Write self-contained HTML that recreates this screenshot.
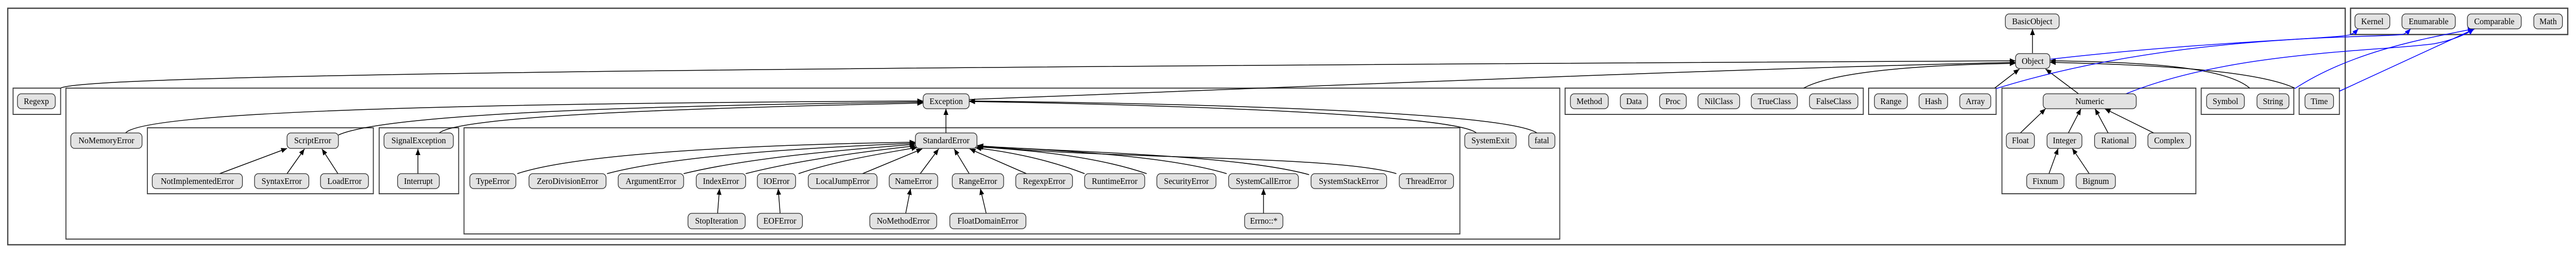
<!DOCTYPE html>
<html><head><meta charset="utf-8"><style>
html,body{margin:0;padding:0;background:#fff;width:100%;height:100%;overflow:hidden;}
svg{display:block;position:absolute;left:0;top:0;width:100vw;height:100vh;}
.n rect{fill:#e3e3e3;stroke:#222;stroke-width:1.3;}
.n text{font-family:"Liberation Serif",serif;font-size:17px;fill:#000;text-anchor:middle;}
.f{fill:none;stroke:#444;stroke-width:2;}
.e{fill:none;stroke:#000;stroke-width:1.5;}
.b{fill:none;stroke:#0000ff;stroke-width:1.5;}
</style></head><body>
<svg viewBox="0 0 5313 491" preserveAspectRatio="none" xmlns="http://www.w3.org/2000/svg">
<defs>
<marker id="a" markerUnits="userSpaceOnUse" markerWidth="12" markerHeight="10" refX="12" refY="5" orient="auto"><path d="M0,0 L12,5 L0,10 z" fill="#000"/></marker>
<marker id="ab" markerUnits="userSpaceOnUse" markerWidth="12" markerHeight="10" refX="12" refY="5" orient="auto"><path d="M0,0 L12,5 L0,10 z" fill="#0000ff"/></marker>
</defs>
<rect class="f" x="16" y="16" width="4821" height="459" style="stroke-width:2.5"/>
<rect class="f" x="4848" y="16" width="448" height="51" style="stroke-width:2.5"/>
<rect class="f" x="27" y="171" width="98" height="51"/>
<rect class="f" x="136" y="171" width="3081" height="293"/>
<rect class="f" x="304" y="248" width="466" height="128"/>
<rect class="f" x="782" y="248" width="164" height="128"/>
<rect class="f" x="957" y="248" width="2054" height="206"/>
<rect class="f" x="3228" y="171" width="615" height="51"/>
<rect class="f" x="3854" y="171" width="263" height="51"/>
<rect class="f" x="4129" y="171" width="400" height="205"/>
<rect class="f" x="4540" y="171" width="191" height="51"/>
<rect class="f" x="4742" y="171" width="83" height="51"/>

<g>
<path class="e" marker-end="url(#a)" d="M125,171 C170,148 1200,132 4157,118"/>
<path class="e" marker-end="url(#a)" d="M1999,193 C2600,172 3500,135 4157,121"/>
<path class="e" marker-end="url(#a)" d="M3720,171 C3780,140 3950,126 4157,123"/>
<path class="e" marker-end="url(#a)" d="M4114,171 L4165,134"/>
<path class="e" marker-end="url(#a)" d="M4287,182 L4219,134"/>
<path class="e" marker-end="url(#a)" d="M4640,171 C4590,130 4420,120 4228,118"/>
<path class="e" marker-end="url(#a)" d="M4733,171 C4650,135 4420,125 4228,121"/>
<path class="e" marker-end="url(#a)" d="M4192,103 L4192,56"/>
</g>
<g>
<path class="b" marker-end="url(#ab)" d="M4228,115 C4550,80 4830,75 4848,67 C4856,64 4860,60 4864,56"/>
<path class="b" marker-end="url(#ab)" d="M4117,172 C4500,60 4930,75 4958,66 C4964,63 4968,60 4972,56"/>
<path class="b" marker-end="url(#ab)" d="M4385,182 C4600,100 4900,100 5020,85 C5060,78 5090,65 5102,56"/>
<path class="b" marker-end="url(#ab)" d="M4733,172 C4850,100 5000,75 5102,56"/>
<path class="b" marker-end="url(#ab)" d="M4825,177 L5104,56"/>
</g>
<g>
<path class="e" marker-end="url(#a)" d="M259,258 C300,215 1000,200 1904,196"/>
<path class="e" marker-end="url(#a)" d="M698,262 C800,218 1400,204 1904,198"/>
<path class="e" marker-end="url(#a)" d="M906,258 C950,225 1400,210 1904,200"/>
<path class="e" marker-end="url(#a)" d="M1951,258 L1951,211"/>
<path class="e" marker-end="url(#a)" d="M3045,258 C3000,222 2400,203 1999,197"/>
<path class="e" marker-end="url(#a)" d="M3170,258 C3100,215 2400,200 1999,196"/>
<path class="e" marker-end="url(#a)" d="M453,337 L592,288"/>
<path class="e" marker-end="url(#a)" d="M592,337 L628,289"/>
<path class="e" marker-end="url(#a)" d="M697,337 L664,289"/>
<path class="e" marker-end="url(#a)" d="M862,337 L862,289"/>
</g>
<g>
<path class="e" marker-end="url(#a)" d="M1067,337 C1200,295 1600,280 1888,276"/>
<path class="e" marker-end="url(#a)" d="M1252,337 C1400,300 1700,285 1888,278"/>
<path class="e" marker-end="url(#a)" d="M1410,337 C1550,305 1750,290 1888,280"/>
<path class="e" marker-end="url(#a)" d="M1538,337 C1650,310 1800,292 1889,283"/>
<path class="e" marker-end="url(#a)" d="M1647,337 C1730,310 1840,295 1892,286"/>
<path class="e" marker-end="url(#a)" d="M1779,337 L1902,289"/>
<path class="e" marker-end="url(#a)" d="M1898,337 L1936,289"/>
<path class="e" marker-end="url(#a)" d="M1999,337 L1968,289"/>
<path class="e" marker-end="url(#a)" d="M2117,337 L2000,289"/>
<path class="e" marker-end="url(#a)" d="M2237,337 C2150,305 2060,292 2012,287"/>
<path class="e" marker-end="url(#a)" d="M2365,337 C2250,300 2100,290 2015,285"/>
<path class="e" marker-end="url(#a)" d="M2530,337 C2400,300 2150,290 2016,284"/>
<path class="e" marker-end="url(#a)" d="M2700,339 C2550,300 2200,295 2016,283"/>
<path class="e" marker-end="url(#a)" d="M2880,337 C2750,300 2250,310 2016,282"/>
<path class="e" marker-end="url(#a)" d="M1480,414 L1484,366"/>
<path class="e" marker-end="url(#a)" d="M1609,414 L1605,366"/>
<path class="e" marker-end="url(#a)" d="M1868,414 L1878,366"/>
<path class="e" marker-end="url(#a)" d="M2034,414 L2022,366"/>
<path class="e" marker-end="url(#a)" d="M2606,414 L2606,366"/>
</g>
<g>
<path class="e" marker-end="url(#a)" d="M4167,258 L4219,211"/>
<path class="e" marker-end="url(#a)" d="M4266,258 L4292,211"/>
<path class="e" marker-end="url(#a)" d="M4348,258 L4321,211"/>
<path class="e" marker-end="url(#a)" d="M4442,258 L4341,211"/>
<path class="e" marker-end="url(#a)" d="M4226,337 L4245,288"/>
<path class="e" marker-end="url(#a)" d="M4309,337 L4274,288"/>
</g>

<g class="n">
<rect x="4857" y="27" width="72" height="29" rx="8"/><text x="4893" y="47">Kernel</text>
<rect x="4954" y="27" width="110" height="29" rx="8"/><text x="5009" y="47">Enumarable</text>
<rect x="5089" y="27" width="111" height="29" rx="8"/><text x="5144.5" y="47">Comparable</text>
<rect x="5226" y="27" width="59" height="29" rx="8"/><text x="5255.5" y="47">Math</text>
<rect x="4136" y="27" width="111" height="29" rx="8"/><text x="4191.5" y="47">BasicObject</text>
<rect x="4157" y="104" width="71" height="29" rx="8"/><text x="4192.5" y="124">Object</text>
<rect x="36" y="182" width="78" height="29" rx="8"/><text x="75" y="202">Regexp</text>
<rect x="1904" y="182" width="95" height="29" rx="8"/><text x="1951.5" y="202">Exception</text>
<rect x="146" y="258" width="147" height="30" rx="8"/><text x="219.5" y="278">NoMemoryError</text>
<rect x="592" y="258" width="106" height="30" rx="8"/><text x="645" y="278">ScriptError</text>
<rect x="314" y="337" width="186" height="29" rx="8"/><text x="407" y="357">NotImplementedError</text>
<rect x="525" y="337" width="112" height="29" rx="8"/><text x="581" y="357">SyntaxError</text>
<rect x="661" y="337" width="99" height="29" rx="8"/><text x="710.5" y="357">LoadError</text>
<rect x="792" y="258" width="143" height="30" rx="8"/><text x="863.5" y="278">SignalException</text>
<rect x="820" y="337" width="86" height="29" rx="8"/><text x="863" y="357">Interrupt</text>
<rect x="1888" y="258" width="127" height="30" rx="8"/><text x="1951.5" y="278">StandardError</text>
<rect x="969" y="337" width="95" height="29" rx="8"/><text x="1016.5" y="357">TypeError</text>
<rect x="1091" y="337" width="159" height="29" rx="8"/><text x="1170.5" y="357">ZeroDivisionError</text>
<rect x="1275" y="337" width="135" height="29" rx="8"/><text x="1342.5" y="357">ArgumentError</text>
<rect x="1436" y="337" width="102" height="29" rx="8"/><text x="1487" y="357">IndexError</text>
<rect x="1562" y="337" width="79" height="29" rx="8"/><text x="1601.5" y="357">IOError</text>
<rect x="1667" y="337" width="142" height="29" rx="8"/><text x="1738" y="357">LocalJumpError</text>
<rect x="1834" y="337" width="100" height="29" rx="8"/><text x="1884" y="357">NameError</text>
<rect x="1964" y="337" width="106" height="29" rx="8"/><text x="2017" y="357">RangeError</text>
<rect x="2095" y="337" width="117" height="29" rx="8"/><text x="2153.5" y="357">RegexpError</text>
<rect x="2237" y="337" width="124" height="29" rx="8"/><text x="2299" y="357">RuntimeError</text>
<rect x="2386" y="337" width="122" height="29" rx="8"/><text x="2447" y="357">SecurityError</text>
<rect x="2534" y="337" width="144" height="29" rx="8"/><text x="2606" y="357">SystemCallError</text>
<rect x="2704" y="337" width="156" height="29" rx="8"/><text x="2782" y="357">SystemStackError</text>
<rect x="2886" y="337" width="112" height="29" rx="8"/><text x="2942" y="357">ThreadError</text>
<rect x="1419" y="414" width="118" height="30" rx="8"/><text x="1478" y="434">StopIteration</text>
<rect x="1562" y="414" width="93" height="30" rx="8"/><text x="1608.5" y="434">EOFError</text>
<rect x="1794" y="414" width="138" height="30" rx="8"/><text x="1863" y="434">NoMethodError</text>
<rect x="1959" y="414" width="157" height="30" rx="8"/><text x="2037.5" y="434">FloatDomainError</text>
<rect x="2567" y="414" width="79" height="30" rx="8"/><text x="2606.5" y="434">Errno::*</text>
<rect x="3021" y="258" width="106" height="30" rx="8"/><text x="3074" y="278">SystemExit</text>
<rect x="3153" y="258" width="54" height="30" rx="8"/><text x="3180" y="278">fatal</text>
<rect x="3239" y="182" width="78" height="29" rx="8"/><text x="3278" y="202">Method</text>
<rect x="3342" y="182" width="56" height="29" rx="8"/><text x="3370" y="202">Data</text>
<rect x="3423" y="182" width="55" height="29" rx="8"/><text x="3450.5" y="202">Proc</text>
<rect x="3502" y="182" width="86" height="29" rx="8"/><text x="3545" y="202">NilClass</text>
<rect x="3612" y="182" width="95" height="29" rx="8"/><text x="3659.5" y="202">TrueClass</text>
<rect x="3732" y="182" width="100" height="29" rx="8"/><text x="3782" y="202">FalseClass</text>
<rect x="3866" y="182" width="68" height="29" rx="8"/><text x="3900" y="202">Range</text>
<rect x="3958" y="182" width="59" height="29" rx="8"/><text x="3987.5" y="202">Hash</text>
<rect x="4042" y="182" width="64" height="29" rx="8"/><text x="4074" y="202">Array</text>
<rect x="4214" y="182" width="192" height="29" rx="8"/><text x="4310" y="202">Numeric</text>
<rect x="4138" y="258" width="58" height="30" rx="8"/><text x="4167" y="278">Float</text>
<rect x="4222" y="258" width="72" height="30" rx="8"/><text x="4258" y="278">Integer</text>
<rect x="4320" y="258" width="85" height="30" rx="8"/><text x="4362.5" y="278">Rational</text>
<rect x="4430" y="258" width="88" height="30" rx="8"/><text x="4474" y="278">Complex</text>
<rect x="4180" y="337" width="77" height="29" rx="8"/><text x="4218.5" y="357">Fixnum</text>
<rect x="4282" y="337" width="81" height="29" rx="8"/><text x="4322.5" y="357">Bignum</text>
<rect x="4551" y="182" width="78" height="29" rx="8"/><text x="4590" y="202">Symbol</text>
<rect x="4655" y="182" width="66" height="29" rx="8"/><text x="4688" y="202">String</text>
<rect x="4754" y="182" width="59" height="29" rx="8"/><text x="4783.5" y="202">Time</text>
</g>
</svg>
</body></html>
